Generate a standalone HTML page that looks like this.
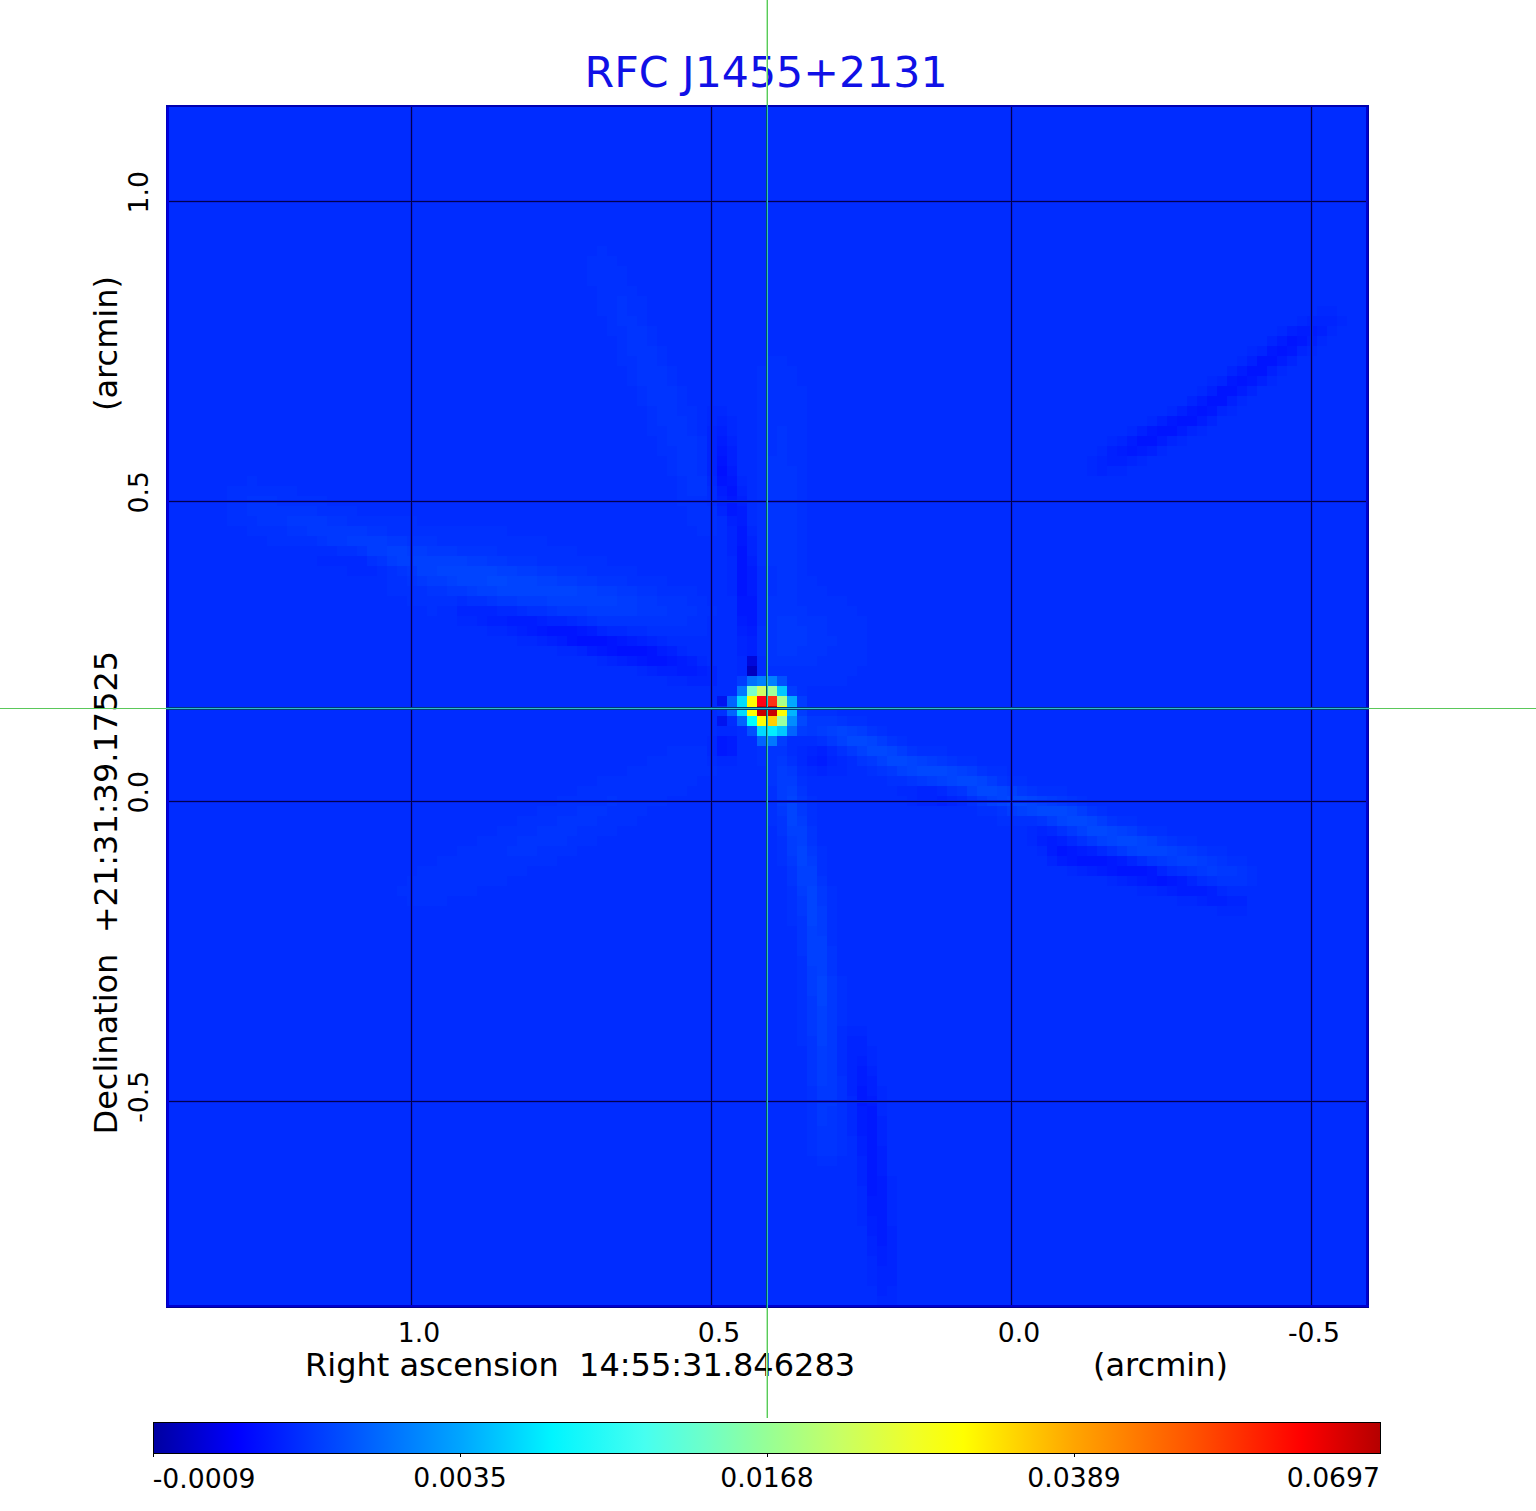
<!DOCTYPE html>
<html><head><meta charset="utf-8"><style>
html,body{margin:0;padding:0;background:#fff;width:1536px;height:1511px;overflow:hidden}
svg{display:block}
text{font-family:"DejaVu Sans","Liberation Sans",sans-serif}
</style></head><body>
<svg width="1536" height="1511" viewBox="0 0 1536 1511">
<defs>
<linearGradient id="cb" x1="0" x2="1" y1="0" y2="0">
<stop offset="0" stop-color="#0000a0"/>
<stop offset="0.069" stop-color="#0000ff"/>
<stop offset="0.25" stop-color="#00a5ff"/>
<stop offset="0.325" stop-color="#00f5ff"/>
<stop offset="0.40" stop-color="#46fff0"/>
<stop offset="0.45" stop-color="#6effc8"/>
<stop offset="0.5" stop-color="#96ff96"/>
<stop offset="0.56" stop-color="#c8ff64"/>
<stop offset="0.62" stop-color="#f0ff28"/>
<stop offset="0.66" stop-color="#ffff00"/>
<stop offset="0.75" stop-color="#ffa500"/>
<stop offset="0.85" stop-color="#ff5000"/>
<stop offset="0.935" stop-color="#ff0000"/>
<stop offset="1" stop-color="#b40000"/>
</linearGradient>
</defs>
<!-- image -->
<rect x="166" y="105" width="1203" height="1203" fill="#0028ff"/>
<g shape-rendering="crispEdges">
<rect x="167" y="106" width="1200" height="1200" fill="#002cff"/>
<path fill="#0030ff" d="M597 246h10v10h-10zM587 256h30v10h-30zM587 266h40v20h-40zM597 286h40v10h-40zM597 296h20v20h-20zM627 296h20v20h-20zM607 316h10v10h-10zM637 316h10v10h-10zM607 326h20v10h-20zM647 326h10v20h-10zM617 336h10v20h-10zM657 346h10v20h-10zM617 356h20v10h-20zM767 356h20v10h-20zM627 366h10v20h-10zM667 366h10v20h-10zM757 366h40v20h-40zM637 386h10v20h-10zM677 386h10v20h-10zM757 386h50v40h-50zM647 406h10v20h-10zM677 406h20v10h-20zM687 416h10v20h-10zM647 426h20v10h-20zM757 426h20v30h-20zM787 426h20v40h-20zM657 436h10v10h-10zM697 436h10v40h-10zM657 446h20v10h-20zM667 456h10v20h-10zM757 456h10v110h-10zM797 466h10v110h-10zM247 476h10v10h-10zM677 476h10v20h-10zM227 486h70v10h-70zM227 496h20v20h-20zM277 496h50v10h-50zM677 496h30v10h-30zM317 506h40v10h-40zM687 506h30v20h-30zM227 516h30v10h-30zM347 516h70v10h-70zM247 526h40v10h-40zM387 526h120v10h-120zM697 526h20v10h-20zM267 536h50v10h-50zM437 536h110v10h-110zM337 546h20v10h-20zM497 546h80v10h-80zM367 556h10v10h-10zM537 556h70v10h-70zM387 566h10v10h-10zM587 566h50v10h-50zM767 566h10v30h-10zM387 576h20v10h-20zM627 576h40v10h-40zM797 576h20v10h-20zM387 586h40v10h-40zM657 586h40v10h-40zM797 586h30v10h-30zM407 596h50v10h-50zM467 596h20v10h-20zM687 596h20v10h-20zM797 596h50v10h-50zM427 606h10v10h-10zM527 606h20v10h-20zM697 606h20v10h-20zM807 606h50v10h-50zM587 616h10v10h-10zM687 616h20v10h-20zM827 616h40v20h-40zM647 626h60v10h-60zM757 626h10v30h-10zM837 636h30v10h-30zM827 646h40v10h-40zM817 656h50v10h-50zM767 666h90v10h-90zM787 676h60v10h-60zM797 686h10v10h-10zM717 706h10v10h-10zM807 706h30v10h-30zM847 716h20v10h-20zM877 726h10v10h-10zM817 736h10v10h-10zM897 736h10v10h-10zM667 746h40v10h-40zM757 746h10v20h-10zM837 746h10v10h-10zM917 746h30v10h-30zM647 756h60v10h-60zM787 756h10v10h-10zM957 756h20v10h-20zM627 766h90v10h-90zM867 766h10v10h-10zM987 766h20v10h-20zM597 776h100v10h-100zM797 776h10v10h-10zM887 776h20v10h-20zM1007 776h20v10h-20zM577 786h110v10h-110zM767 786h10v40h-10zM947 786h10v10h-10zM1037 786h30v10h-30zM557 796h50v10h-50zM617 796h50v10h-50zM807 796h10v30h-10zM967 796h10v10h-10zM1077 796h10v10h-10zM537 806h40v10h-40zM607 806h40v10h-40zM977 806h20v10h-20zM1097 806h10v10h-10zM517 816h40v10h-40zM597 816h40v10h-40zM997 816h40v10h-40zM1117 816h20v10h-20zM497 826h40v10h-40zM577 826h40v10h-40zM1057 826h10v10h-10zM1147 826h20v10h-20zM477 836h40v10h-40zM567 836h30v10h-30zM777 836h10v30h-10zM1077 836h10v10h-10zM1177 836h20v10h-20zM457 846h50v10h-50zM537 846h40v10h-40zM817 846h10v30h-10zM1107 846h10v10h-10zM1207 846h20v10h-20zM437 856h120v10h-120zM1227 856h20v10h-20zM417 866h110v10h-110zM1177 866h10v10h-10zM1247 866h10v20h-10zM407 876h100v10h-100zM1207 876h10v10h-10zM397 886h80v10h-80zM787 886h10v40h-10zM827 886h10v60h-10zM407 896h40v10h-40zM797 956h10v90h-10zM837 976h10v50h-10zM837 1076h10v80h-10zM807 1086h10v70h-10zM817 1156h20v10h-20z"/>
<path fill="#0034ff" d="M617 296h10v20h-10zM617 316h20v10h-20zM627 326h20v20h-20zM627 346h30v10h-30zM637 356h20v10h-20zM637 366h30v20h-30zM647 386h30v20h-30zM657 406h20v10h-20zM657 416h30v10h-30zM667 426h20v10h-20zM777 426h10v30h-10zM667 436h30v10h-30zM677 446h20v30h-20zM767 456h20v10h-20zM767 466h30v100h-30zM687 476h20v20h-20zM247 496h30v10h-30zM247 506h70v10h-70zM257 516h30v10h-30zM327 516h20v10h-20zM287 526h20v10h-20zM367 526h20v10h-20zM317 536h10v10h-10zM407 536h30v10h-30zM357 546h10v10h-10zM457 546h40v10h-40zM377 556h10v10h-10zM507 556h30v10h-30zM397 566h10v10h-10zM557 566h30v10h-30zM777 566h20v30h-20zM407 576h10v10h-10zM597 576h30v10h-30zM427 586h20v10h-20zM637 586h20v10h-20zM487 596h10v10h-10zM657 596h30v10h-30zM767 596h30v10h-30zM547 606h10v10h-10zM667 606h30v10h-30zM767 606h40v10h-40zM597 616h90v10h-90zM767 616h10v40h-10zM797 616h30v10h-30zM807 626h20v10h-20zM807 636h30v10h-30zM797 646h30v10h-30zM767 656h50v10h-50zM837 716h10v10h-10zM867 726h10v10h-10zM887 736h10v10h-10zM767 746h20v10h-20zM907 746h10v10h-10zM767 756h10v30h-10zM857 756h10v10h-10zM947 756h10v10h-10zM877 766h10v10h-10zM977 766h10v10h-10zM907 776h10v10h-10zM997 776h10v10h-10zM797 786h10v10h-10zM957 786h10v10h-10zM1027 786h10v10h-10zM607 796h10v10h-10zM1067 796h10v10h-10zM577 806h30v10h-30zM997 806h10v10h-10zM1087 806h10v10h-10zM557 816h40v10h-40zM777 816h10v20h-10zM1037 816h10v10h-10zM1107 816h10v10h-10zM537 826h40v10h-40zM807 826h10v20h-10zM1137 826h10v10h-10zM517 836h50v10h-50zM1167 836h10v10h-10zM507 846h30v10h-30zM1197 846h10v10h-10zM1147 856h10v10h-10zM1217 856h10v10h-10zM787 866h10v20h-10zM1187 866h10v10h-10zM1237 866h10v10h-10zM817 876h10v10h-10zM1217 876h30v10h-30zM797 916h10v40h-10zM827 946h10v30h-10zM807 1036h10v50h-10zM827 1106h10v20h-10zM817 1126h20v30h-20z"/>
<path fill="#0028ff" d="M1317 306h20v10h-20zM1297 316h10v10h-10zM1337 316h10v10h-10zM1277 326h10v10h-10zM1327 326h10v10h-10zM1317 336h10v10h-10zM1247 346h10v10h-10zM1307 346h10v10h-10zM1237 356h10v10h-10zM1277 366h10v10h-10zM1207 376h10v10h-10zM1267 376h10v10h-10zM1197 386h10v10h-10zM1237 396h10v10h-10zM707 406h20v10h-20zM1167 406h10v10h-10zM1227 406h10v10h-10zM707 416h10v10h-10zM727 416h10v20h-10zM1147 416h10v10h-10zM1127 426h10v10h-10zM1197 426h10v10h-10zM1107 436h10v10h-10zM1177 436h10v10h-10zM1097 446h10v10h-10zM1157 446h10v10h-10zM1087 456h10v20h-10zM1137 456h10v10h-10zM1107 466h20v10h-20zM707 476h10v10h-10zM737 476h10v10h-10zM747 526h10v10h-10zM317 556h50v10h-50zM727 556h10v40h-10zM347 566h30v10h-30zM497 606h20v10h-20zM457 616h20v10h-20zM567 616h10v10h-10zM487 626h20v10h-20zM607 626h20v10h-20zM517 636h20v10h-20zM657 636h10v10h-10zM557 646h20v10h-20zM677 646h10v10h-10zM597 656h10v10h-10zM697 656h10v10h-10zM737 656h10v20h-10zM637 666h10v10h-10zM667 676h20v10h-20zM717 726h20v10h-20zM707 736h10v20h-10zM797 746h10v20h-10zM827 746h10v10h-10zM717 756h20v10h-20zM837 756h10v10h-10zM807 766h10v10h-10zM827 766h20v10h-20zM897 786h20v10h-20zM937 786h10v10h-10zM907 796h10v10h-10zM957 796h10v10h-10zM1027 826h10v20h-10zM1047 826h10v10h-10zM1067 836h10v10h-10zM1037 846h10v10h-10zM1097 846h10v10h-10zM1067 866h10v10h-10zM1107 876h10v10h-10zM1137 886h20v10h-20zM1217 886h10v10h-10zM1177 896h20v10h-20zM1217 906h30v10h-30zM847 1026h20v10h-20zM867 1046h10v20h-10zM877 1086h10v30h-10zM847 1096h10v40h-10zM887 1176h10v50h-10zM857 1186h10v40h-10zM867 1256h10v30h-10zM887 1286h10v10h-10zM877 1296h20v10h-20z"/>
<path fill="#0024ff" d="M1307 316h30v10h-30zM1267 336h10v10h-10zM1257 346h10v10h-10zM1297 346h10v10h-10zM1287 356h10v10h-10zM1227 366h10v10h-10zM1217 376h10v10h-10zM1247 386h10v10h-10zM1187 396h10v10h-10zM1217 406h10v10h-10zM717 416h10v10h-10zM1207 416h10v10h-10zM707 426h10v50h-10zM1187 426h10v10h-10zM727 436h10v10h-10zM1117 436h10v10h-10zM1167 436h10v10h-10zM1097 456h10v20h-10zM1127 456h10v10h-10zM737 486h10v10h-10zM717 506h10v10h-10zM727 526h10v30h-10zM747 536h10v20h-10zM457 606h40v10h-40zM477 616h10v10h-10zM547 616h20v10h-20zM507 626h10v10h-10zM597 626h10v10h-10zM537 636h10v10h-10zM647 636h10v10h-10zM737 636h10v20h-10zM577 646h10v10h-10zM607 656h10v10h-10zM647 666h10v10h-10zM707 666h10v10h-10zM687 676h30v10h-30zM807 746h10v10h-10zM827 756h10v10h-10zM817 766h10v10h-10zM917 786h20v20h-20zM947 796h10v10h-10zM1037 826h10v10h-10zM1047 856h10v10h-10zM1127 856h10v10h-10zM1077 866h10v10h-10zM1157 866h10v10h-10zM1117 876h10v10h-10zM1187 876h10v10h-10zM1157 886h10v10h-10zM1197 896h10v10h-10zM1227 896h20v10h-20zM847 1036h20v20h-20zM847 1056h10v40h-10zM867 1066h10v10h-10zM877 1116h10v30h-10zM857 1156h10v30h-10zM887 1226h10v40h-10zM867 1236h10v20h-10zM877 1266h20v20h-20zM877 1286h10v10h-10z"/>
<path fill="#0020ff" d="M1287 326h10v10h-10zM1317 326h10v10h-10zM1307 336h10v10h-10zM1247 356h10v10h-10zM1267 366h10v10h-10zM1257 376h10v10h-10zM1207 386h10v10h-10zM1227 396h10v10h-10zM1177 406h10v10h-10zM1157 416h10v10h-10zM717 426h10v10h-10zM1137 426h10v10h-10zM727 446h10v20h-10zM1107 446h10v10h-10zM1147 446h10v10h-10zM1107 456h20v10h-20zM717 496h10v10h-10zM737 496h10v10h-10zM727 516h10v10h-10zM747 556h10v10h-10zM487 616h20v10h-20zM537 616h10v10h-10zM517 626h10v10h-10zM737 626h10v10h-10zM547 636h10v10h-10zM637 636h10v10h-10zM747 636h10v20h-10zM667 646h10v10h-10zM617 656h10v10h-10zM687 656h10v10h-10zM657 666h20v10h-20zM697 666h10v10h-10zM817 746h10v10h-10zM807 756h10v10h-10zM937 796h10v10h-10zM1037 836h10v10h-10zM1057 836h10v10h-10zM1087 846h10v10h-10zM1087 866h10v10h-10zM1127 876h10v10h-10zM1167 886h10v10h-10zM1207 886h10v10h-10zM1207 896h20v10h-20zM857 1056h10v10h-10zM867 1076h10v20h-10zM857 1136h10v20h-10zM877 1146h10v30h-10zM867 1216h10v20h-10zM877 1246h10v20h-10z"/>
<path fill="#001cff" d="M1297 326h20v10h-20zM1277 336h10v10h-10zM1277 356h10v10h-10zM1237 366h10v10h-10zM1237 386h10v10h-10zM1197 396h10v10h-10zM1197 416h10v10h-10zM1177 426h10v10h-10zM717 436h10v10h-10zM1127 436h10v10h-10zM1157 436h10v10h-10zM1117 446h10v10h-10zM1137 446h10v10h-10zM727 466h10v10h-10zM717 486h10v10h-10zM737 506h10v20h-10zM747 566h10v30h-10zM507 616h30v10h-30zM737 616h10v10h-10zM527 626h10v10h-10zM587 626h10v10h-10zM747 626h10v10h-10zM557 636h10v10h-10zM627 636h10v10h-10zM587 646h10v10h-10zM657 646h10v10h-10zM627 656h10v10h-10zM677 656h10v10h-10zM677 666h20v10h-20zM727 736h10v20h-10zM817 756h10v10h-10zM1047 836h10v20h-10zM1077 846h10v10h-10zM1057 856h10v10h-10zM1117 856h10v10h-10zM1097 866h10v10h-10zM1137 876h10v10h-10zM1177 876h10v10h-10zM1177 886h30v10h-30zM857 1066h10v20h-10zM867 1096h10v10h-10zM857 1106h10v30h-10zM877 1176h10v20h-10zM867 1196h20v20h-20zM877 1216h10v30h-10z"/>
<path fill="#0014ff" d="M1287 336h10v10h-10zM1277 346h10v10h-10zM1257 356h20v10h-20zM1247 366h20v10h-20zM1237 376h10v10h-10zM1217 386h20v10h-20zM1207 396h20v10h-20zM1197 406h10v10h-10zM1177 416h20v10h-20zM1157 426h20v10h-20zM1137 436h20v10h-20zM717 456h10v10h-10zM717 476h10v10h-10zM727 486h10v10h-10zM737 546h10v50h-10zM547 626h30v10h-30zM567 636h10v10h-10zM607 636h10v20h-10zM647 646h10v10h-10zM647 656h20v10h-20zM1057 846h10v10h-10zM1077 856h30v10h-30zM1117 866h30v10h-30zM1157 876h10v10h-10z"/>
<path fill="#0018ff" d="M1297 336h10v10h-10zM1267 346h10v10h-10zM1287 346h10v10h-10zM1227 376h10v10h-10zM1247 376h10v10h-10zM1187 406h10v10h-10zM1207 406h10v10h-10zM1167 416h10v10h-10zM1147 426h10v10h-10zM717 446h10v10h-10zM1127 446h10v10h-10zM727 476h10v10h-10zM727 496h10v20h-10zM737 526h10v20h-10zM737 596h20v20h-20zM747 616h10v10h-10zM537 626h10v10h-10zM577 626h10v10h-10zM617 636h10v10h-10zM597 646h10v10h-10zM637 656h10v10h-10zM667 656h10v10h-10zM717 736h10v20h-10zM1067 846h10v20h-10zM1107 856h10v20h-10zM1147 866h10v20h-10zM1167 876h10v10h-10zM857 1086h10v20h-10zM867 1106h10v90h-10z"/>
<path fill="#0010ff" d="M717 466h10v10h-10zM577 636h30v10h-30zM617 646h30v10h-30z"/>
<path fill="#0038ff" d="M287 516h40v10h-40zM307 526h60v10h-60zM327 536h20v10h-20zM387 536h20v10h-20zM427 546h30v10h-30zM487 556h20v10h-20zM407 566h10v10h-10zM537 566h20v10h-20zM417 576h10v10h-10zM577 576h20v10h-20zM447 586h20v10h-20zM617 586h20v10h-20zM497 596h20v10h-20zM637 596h20v10h-20zM557 606h30v10h-30zM637 606h30v10h-30zM777 616h20v10h-20zM777 626h30v20h-30zM777 646h20v10h-20zM807 716h30v10h-30zM807 726h10v10h-10zM827 736h10v10h-10zM847 746h10v10h-10zM777 756h10v10h-10zM867 756h10v10h-10zM937 756h10v10h-10zM787 766h10v10h-10zM887 766h10v10h-10zM917 776h10v10h-10zM1017 786h10v10h-10zM797 796h10v20h-10zM977 796h10v10h-10zM1057 796h10v10h-10zM777 806h10v10h-10zM1067 826h10v10h-10zM1087 836h10v10h-10zM1157 836h10v10h-10zM807 846h10v10h-10zM1117 846h10v10h-10zM1187 846h10v10h-10zM787 856h10v10h-10zM1157 856h10v10h-10zM1207 856h10v10h-10zM1197 866h10v10h-10zM1217 866h20v10h-20zM817 886h10v20h-10zM797 896h10v20h-10zM827 976h10v110h-10zM807 996h10v40h-10zM817 1086h20v20h-20zM817 1106h10v20h-10z"/>
<path fill="#003cff" d="M347 536h40v10h-40zM367 546h20v10h-20zM407 546h20v10h-20zM387 556h10v10h-10zM467 556h20v10h-20zM517 566h20v10h-20zM427 576h20v10h-20zM557 576h20v10h-20zM467 586h10v10h-10zM597 586h20v10h-20zM517 596h30v10h-30zM617 596h20v10h-20zM587 606h50v10h-50zM737 676h10v10h-10zM787 686h10v10h-10zM797 696h10v20h-10zM797 726h10v10h-10zM817 726h10v10h-10zM857 726h10v10h-10zM777 736h10v10h-10zM877 736h10v10h-10zM897 746h10v10h-10zM927 756h10v10h-10zM777 766h10v10h-10zM967 766h10v10h-10zM777 776h20v10h-20zM927 776h10v10h-10zM987 776h10v10h-10zM777 786h10v20h-10zM1047 796h10v10h-10zM1007 806h10v10h-10zM1077 806h10v10h-10zM797 816h10v10h-10zM1047 816h10v10h-10zM1097 816h10v10h-10zM1127 826h10v10h-10zM787 836h10v20h-10zM1177 846h10v10h-10zM807 856h10v10h-10zM1167 856h10v10h-10zM1197 856h10v10h-10zM1207 866h10v10h-10zM797 886h10v10h-10zM817 906h10v30h-10zM807 966h10v30h-10zM817 1046h10v40h-10z"/>
<path fill="#0040ff" d="M387 546h20v10h-20zM397 556h70v10h-70zM417 566h20v10h-20zM497 566h20v10h-20zM447 576h10v10h-10zM537 576h20v10h-20zM477 586h20v10h-20zM577 586h20v10h-20zM547 596h70v10h-70zM827 726h10v10h-10zM847 726h10v10h-10zM837 736h10v10h-10zM857 746h10v10h-10zM877 756h10v10h-10zM917 756h10v10h-10zM897 766h10v10h-10zM957 766h10v10h-10zM937 776h10v10h-10zM787 786h10v10h-10zM967 786h10v10h-10zM1007 786h10v10h-10zM987 796h10v10h-10zM1037 796h10v10h-10zM1017 806h10v10h-10zM787 826h20v10h-20zM1077 826h10v10h-10zM1117 826h10v10h-10zM797 836h10v10h-10zM1097 836h10v10h-10zM1147 836h10v10h-10zM1127 846h10v10h-10zM1167 846h10v10h-10zM1177 856h20v10h-20zM797 866h20v20h-20zM807 926h10v10h-10zM807 936h20v30h-20zM817 966h10v10h-10zM817 1006h10v40h-10z"/>
<path fill="#0044ff" d="M437 566h60v10h-60zM457 576h30v10h-30zM507 576h30v10h-30zM497 586h80v10h-80zM837 726h10v10h-10zM867 736h10v10h-10zM887 746h10v10h-10zM907 756h10v20h-10zM947 766h10v20h-10zM977 776h10v10h-10zM997 786h10v20h-10zM787 796h10v30h-10zM1027 796h10v20h-10zM1067 806h10v10h-10zM1057 816h10v10h-10zM1087 816h10v10h-10zM1107 826h10v20h-10zM1137 836h10v10h-10zM797 846h10v20h-10zM1137 846h30v10h-30zM807 886h10v40h-10zM817 976h10v30h-10z"/>
<path fill="#0048ff" d="M487 576h20v10h-20zM797 716h10v10h-10zM847 736h20v10h-20zM867 746h20v10h-20zM887 756h20v10h-20zM917 766h30v10h-30zM957 776h20v10h-20zM977 786h20v10h-20zM1007 796h20v10h-20zM1037 806h30v10h-30zM1067 816h20v10h-20zM1087 826h20v10h-20zM1117 836h20v10h-20z"/>
<path fill="#0008dc" d="M747 656h10v10h-10z"/>
<path fill="#0000c0" d="M747 666h10v10h-10z"/>
<path fill="#0070ff" d="M747 676h10v10h-10z"/>
<path fill="#0080ff" d="M757 676h20v10h-20z"/>
<path fill="#0050ff" d="M777 676h10v10h-10zM747 726h10v10h-10z"/>
<path fill="#0078ff" d="M737 686h10v10h-10zM767 736h10v10h-10z"/>
<path fill="#78ffc8" d="M747 686h10v10h-10z"/>
<path fill="#d0ff64" d="M757 686h10v10h-10z"/>
<path fill="#a0ff98" d="M767 686h10v10h-10z"/>
<path fill="#00c8ff" d="M777 686h10v10h-10zM777 726h10v10h-10z"/>
<path fill="#0014f0" d="M717 696h10v10h-10zM717 716h10v10h-10z"/>
<path fill="#0064ff" d="M727 696h10v20h-10zM737 716h10v10h-10zM787 726h10v10h-10zM757 736h10v10h-10z"/>
<path fill="#00dcff" d="M737 696h10v20h-10zM757 726h10v10h-10z"/>
<path fill="#ffff00" d="M747 696h10v20h-10zM777 706h10v10h-10zM757 716h10v10h-10z"/>
<path fill="#ff0014" d="M757 696h10v10h-10z"/>
<path fill="#ff3014" d="M767 696h10v10h-10z"/>
<path fill="#a8ff8c" d="M777 696h10v10h-10z"/>
<path fill="#00a8ff" d="M787 696h10v10h-10z"/>
<path fill="#c80000" d="M757 706h20v10h-20z"/>
<path fill="#00b4ff" d="M787 706h10v10h-10z"/>
<path fill="#00ffff" d="M747 716h10v10h-10z"/>
<path fill="#ffd000" d="M767 716h10v10h-10z"/>
<path fill="#98ffa0" d="M777 716h10v10h-10z"/>
<path fill="#008cff" d="M787 716h10v10h-10z"/>
<path fill="#00f0ff" d="M767 726h10v10h-10z"/>
</g>
<!-- grid -->
<g fill="#0420e6">
<rect x="410" y="107" width="3" height="1198"/>
<rect x="710" y="107" width="3" height="1198"/>
<rect x="1010" y="107" width="3" height="1198"/>
<rect x="1310" y="107" width="3" height="1198"/>
<rect x="169" y="200" width="1197" height="3"/>
<rect x="169" y="500" width="1197" height="3"/>
<rect x="169" y="800" width="1197" height="3"/>
<rect x="169" y="1100" width="1197" height="3"/>
</g>
<g fill="#000050">
<rect x="411" y="107" width="1" height="1198"/>
<rect x="711" y="107" width="1" height="1198"/>
<rect x="1011" y="107" width="1" height="1198"/>
<rect x="1311" y="107" width="1" height="1198"/>
<rect x="169" y="201" width="1197" height="1"/>
<rect x="169" y="501" width="1197" height="1"/>
<rect x="169" y="801" width="1197" height="1"/>
<rect x="169" y="1101" width="1197" height="1"/>
</g>
<!-- border -->
<rect x="166" y="105" width="3" height="1203" fill="#0000e0"/>
<rect x="166" y="105" width="1" height="1203" fill="#0000c0"/>
<rect x="1366" y="105" width="3" height="1203" fill="#0000d0"/>
<rect x="1368" y="105" width="1" height="1203" fill="#0000a0"/>
<rect x="166" y="105" width="1203" height="2" fill="#0000b0"/>
<rect x="166" y="1305" width="1203" height="3" fill="#0000d0"/>
<rect x="166" y="1307" width="1203" height="1" fill="#000090"/>
<!-- title -->
<text x="584.6" y="87" font-size="42.667" fill="#1010e6">RFC J1455+2131</text>
<!-- x tick labels -->
<g font-size="26.667" fill="#000" text-anchor="middle">
<text x="419" y="1342">1.0</text>
<text x="719" y="1342">0.5</text>
<text x="1019" y="1342">0.0</text>
<text x="1314" y="1342">-0.5</text>
</g>
<text x="305" y="1375.7" font-size="32" fill="#000" xml:space="preserve">Right ascension  14:55:31.846283</text>
<text x="1093" y="1375.7" font-size="32" fill="#000">(arcmin)</text>
<!-- y tick labels -->
<g font-size="26.667" fill="#000" text-anchor="middle">
<text transform="translate(148,192.3) rotate(-90)">1.0</text>
<text transform="translate(148,492.3) rotate(-90)">0.5</text>
<text transform="translate(148,792.3) rotate(-90)">0.0</text>
<text transform="translate(148,1096.8) rotate(-90)">-0.5</text>
</g>
<text transform="translate(116.8,411) rotate(-90)" font-size="32" fill="#000">(arcmin)</text>
<text transform="translate(116.8,1134.5) rotate(-90)" font-size="32" fill="#000" xml:space="preserve">Declination  +21:31:39.17525</text>
<!-- colorbar -->
<rect x="153" y="1422" width="1228" height="32" fill="url(#cb)"/>
<g fill="#000">
<rect x="153" y="1422" width="1228" height="1"/>
<rect x="153" y="1453" width="1228" height="1"/>
<rect x="153" y="1422" width="1" height="35"/>
<rect x="1380" y="1422" width="1" height="32"/>
<rect x="460" y="1454" width="1" height="3"/>
<rect x="767" y="1454" width="1" height="3"/>
<rect x="1074" y="1454" width="1" height="3"/>
</g>
<g font-size="26.667" fill="#000">
<text x="152.7" y="1487.5">-0.0009</text>
<text x="460" y="1487" text-anchor="middle">0.0035</text>
<text x="767" y="1487" text-anchor="middle">0.0168</text>
<text x="1074" y="1487" text-anchor="middle">0.0389</text>
<text x="1380" y="1487" text-anchor="end">0.0697</text>
</g>
<!-- crosshair -->
<rect x="767" y="0" width="1" height="1418" fill="#5ac85a"/>
<rect x="766" y="0" width="1" height="105" fill="#b4f0b4"/>
<rect x="766" y="1308" width="1" height="110" fill="#b4f0b4"/>
<rect x="766" y="105" width="1" height="1203" fill="#005a5a"/>
<rect x="767" y="105" width="1" height="1203" fill="#32bec0"/>
<rect x="0" y="708" width="1536" height="1" fill="#5ac85a"/>
<rect x="166" y="707" width="1203" height="1" fill="#003c78"/>
<rect x="166" y="709" width="1203" height="1" fill="#003c78"/>
<rect x="166" y="708" width="1203" height="1" fill="#32bec8"/>
</svg>
</body></html>
